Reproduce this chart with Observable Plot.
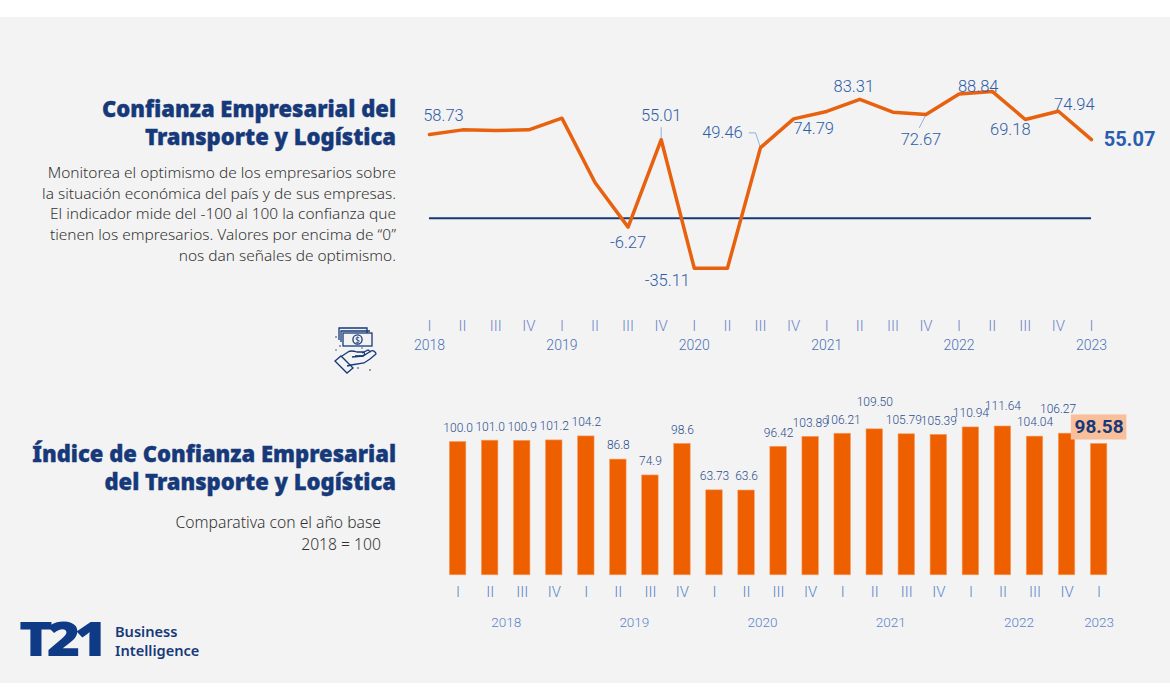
<!DOCTYPE html>
<html><head><meta charset="utf-8">
<script src="https://cdn.jsdelivr.net/npm/d3@7"></script>
<script src="https://cdn.jsdelivr.net/npm/@observablehq/plot@0.6"></script>
<style>
html,body{margin:0;padding:0;background:#fff;width:1170px;height:700px;overflow:hidden}
#panel{position:absolute;left:0;top:17px;width:1170px;height:666px;background:#f3f3f3}
.abs{position:absolute}
.t{position:absolute;text-align:right;font-family:"Noto Sans",sans-serif;font-weight:900;color:#16397a;font-size:22px;line-height:28px;white-space:nowrap;-webkit-text-stroke:.35px #16397a}
.b{position:absolute;text-align:right;font-family:"Noto Sans",sans-serif;font-weight:300;color:#333;white-space:nowrap}
svg{overflow:visible}
</style></head><body>
<div id="panel"></div>
<div class="t" style="right:774px;top:94px">Confianza Empresarial del<br>Transporte y Logística</div>
<div class="b" style="right:774px;top:162px;font-size:15.45px;line-height:20.7px">Monitorea el optimismo de los empresarios sobre<br>la situación económica del país y de sus empresas.<br>El indicador mide del -100 al 100 la confianza que<br>tienen los empresarios. Valores por encima de “0”<br>nos dan señales de optimismo.</div>
<div class="t" style="right:774px;top:439px">Índice de Confianza Empresarial<br>del Transporte y Logística</div>
<div class="b" style="right:789px;top:511px;font-size:15.7px;line-height:22px">Comparativa con el año base<br>2018 = 100</div>
<svg class="abs" style="left:325px;top:320px" width="60" height="60" viewBox="0 0 60 60" fill="none" stroke="#16397a" stroke-width="1.3">
<path d="M14 20V8h28v5M16 22V11h29"/><rect x="18" y="13" width="29" height="13" fill="#f3f3f3"/><circle cx="32.5" cy="19.5" r="4.6"/><text x="32.5" y="22.5" font-size="8" text-anchor="middle" fill="#16397a" stroke="none" font-family="Noto Sans">$</text>
<path d="M17 36l6-4c3-2 6-1 9 0h6c2 0 2 3 0 4l-8 0"/><path d="M27 37l11-1 8-5c2-1 5 1 5 3l-6 5-6 4-13 2-4 1"/><path d="M37 33l6-3 3 2"/>
<path d="M10 41l6-5 12 12-6 5z"/>
<g fill="#16397a" stroke="none"><circle cx="11" cy="17" r=".8"/><circle cx="15" cy="26" r=".8"/><circle cx="11" cy="30" r=".7"/><circle cx="33" cy="48" r=".8"/><circle cx="45" cy="50" r=".8"/><circle cx="37" cy="28" r=".7"/></g>
</svg>
<div class="abs" style="left:19px;top:610px;font-family:'Noto Sans',sans-serif;font-weight:900;color:#0f3a86;font-size:47px;line-height:56px;letter-spacing:-5px;transform:scaleX(1.22);transform-origin:left top">T21</div>
<div class="abs" style="left:115px;top:622px;font-family:'Noto Sans',sans-serif;font-weight:600;color:#16397a;font-size:14.6px;line-height:19px">Business<br>Intelligence</div>
<div id="c1" class="abs" style="left:400px;top:40px"></div>
<div id="c2" class="abs" style="left:400px;top:380px"></div>
<script>
const quarterLabels=["I","II","III","IV","I","II","III","IV","I","II","III","IV","I","II","III","IV","I","II","III","IV","I"];
const yearLabels=["2018","2019","2020","2021","2022","2023"];
const yearIndex=[0,4,8,12,16,20];
const confianza=[58.73,61.9,61.4,61.9,70.1,25.0,-6.27,55.01,-35.11,-35.11,49.46,69.6,74.79,83.31,74.3,72.67,87.1,88.84,69.18,74.94,55.07];
const shownIndex=[0,7,6,8,10,12,13,15,17,18,19];
const shownDx=[14,0,0,-27,-38,-13,-6,-5,-14,-15,16];
const shownDy=[-19,-24,16,12,-15,17,-13,25,-5,10,-7];
const leaders=[
 [[7,55.01],[7,63.5]],
 [[15,72.67],[14.8,63.5]],
 [[10,49.46],[9.85,59.8],[9.66,59.8]]
];
const indice=[100.0,101.0,100.9,101.2,104.2,86.8,74.9,98.6,63.73,63.6,96.42,103.89,106.21,109.50,105.79,105.39,110.94,111.64,104.04,106.27,98.58];
const indiceText=["100.0","101.0","100.9","101.2","104.2","86.8","74.9","98.6","63.73","63.6","96.42","103.89","106.21","109.50","105.79","105.39","110.94","111.64","104.04","106.27"];
const keys=indice.map((_,i)=>i);

const orange="#ee5f00", navy="#16397a";
const lineFont="Roboto,sans-serif";

const chartTop=Plot.plot({
  width:770,height:320,marginTop:0,marginLeft:0,marginRight:0,marginBottom:41,
  style:{background:"transparent",fontFamily:lineFont,overflow:"visible"},
  x:{type:"linear",domain:[0,20],range:[29,691],axis:null},
  y:{domain:[-100,100],range:[177.7+142.7,177.7-142.7],axis:null},
  marks:[
    Plot.ruleY([0],{x1:0,x2:20,stroke:"#16397a",strokeWidth:2}),
    ...leaders.map(l=>Plot.line(l,{x:d=>d[0],y:d=>d[1],stroke:"#8fb2e0",strokeWidth:1})),
    Plot.line(confianza,{x:(d,i)=>i,y:d=>d,stroke:"#e8610f",strokeWidth:3.5}),
    ...shownIndex.map((k,j)=>Plot.text([k],{x:d=>d,y:d=>confianza[d],text:d=>confianza[d].toFixed(2),dx:shownDx[j],dy:shownDy[j],fill:"#2f5da8",fontSize:16.5,fontWeight:300})),
    Plot.text([20],{x:d=>d,y:d=>confianza[d],text:d=>confianza[d].toFixed(2),dx:38,fill:"#2a5cb0",fontSize:20,fontWeight:700}),
    Plot.axisX({ticks:keys,tickFormat:i=>quarterLabels[i],tickSize:0,tickPadding:1,fontSize:15,fontWeight:300,fill:"#6f86c8",label:null}),
    Plot.axisX({ticks:yearIndex,tickFormat:i=>yearLabels[yearIndex.indexOf(i)],tickSize:0,tickPadding:21,fontSize:14,fontWeight:300,fill:"#4a72b8",label:null})
  ]
});
document.getElementById("c1").append(chartTop);

const liftOf=k=>({13:27,17:20,19:24}[k]||14);
const dxOf=k=>({19:-9,14:-3}[k]||0);
const chartBottom=Plot.plot({
  width:770,height:260,marginTop:0,marginLeft:0,marginRight:0,marginBottom:65.2,
  style:{background:"transparent",fontFamily:lineFont,overflow:"visible"},
  x:{type:"band",domain:keys,range:[49.35,706.85],paddingInner:0.485,paddingOuter:0,align:.5,round:false,axis:null},
  y:{domain:[0,100],range:[194.8,194.8-133.3],axis:null},
  marks:[
    Plot.barY(keys,{x:d=>d,y:d=>indice[d],fill:orange,stroke:"#f9a06a",strokeWidth:.6}),
    Plot.barY([20],{x:d=>d,y1:101.5,y2:120.3,fill:"#f9be9a",insetLeft:-19.5,insetRight:-19.5}),
    ...keys.slice(0,20).map(k=>Plot.text([k],{x:d=>d,y:d=>indice[d],text:d=>indiceText[d],dy:-liftOf(k),dx:dxOf(k),fill:"#2c4f8f",fontSize:12,fontWeight:300})),
    Plot.text([20],{x:d=>d,y:111,text:d=>indice[d].toFixed(2),fill:navy,fontSize:19,fontWeight:700}),
    Plot.axisX({ticks:keys,tickFormat:i=>quarterLabels[i],tickSize:0,tickPadding:11,fontSize:15,fontWeight:300,fill:"#5b86c8",label:null}),
    Plot.axisX({ticks:[1,5,9,13,17],tickFormat:i=>yearLabels[(i-1)/4],tickSize:0,tickPadding:42,dx:16,fontSize:13.5,fontWeight:300,fill:"#5b86c8",label:null}),
    Plot.axisX({ticks:[20],tickFormat:()=>yearLabels[5],tickSize:0,tickPadding:42,fontSize:13.5,fontWeight:300,fill:"#5b86c8",label:null})
  ]
});
document.getElementById("c2").append(chartBottom);
</script>
</body></html>
